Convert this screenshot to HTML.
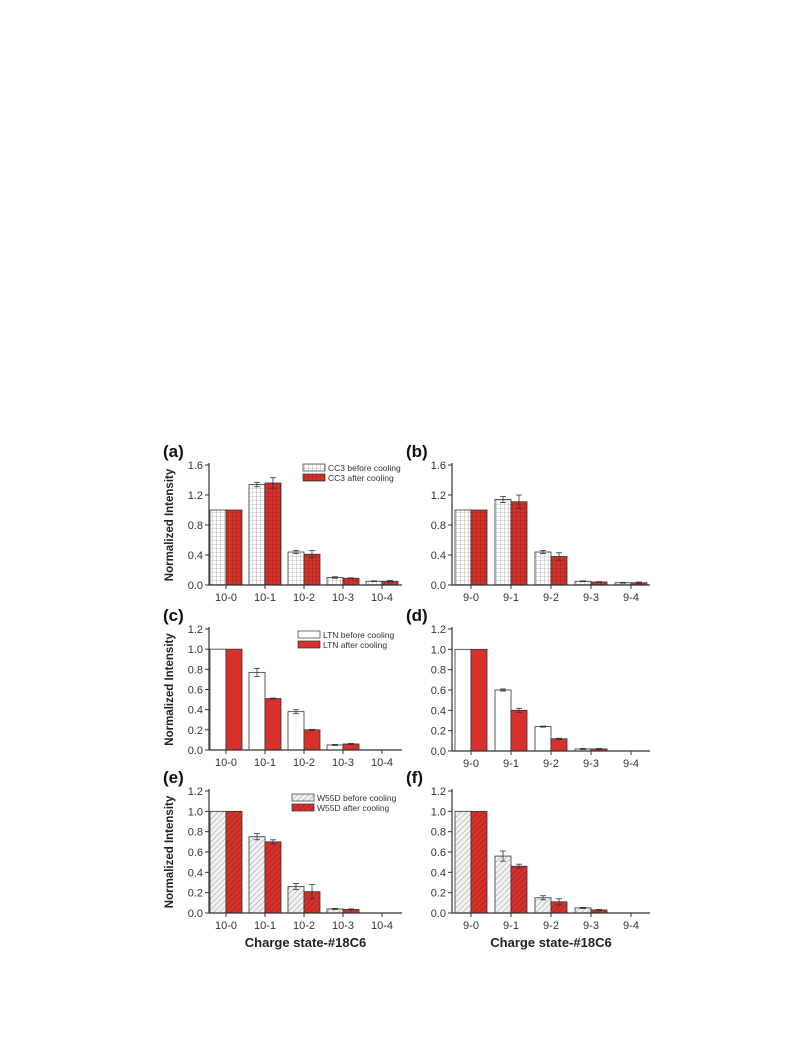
<!DOCTYPE html>
<html><head><meta charset="utf-8"><style>
html,body{margin:0;padding:0;background:#fff;}
svg{display:block;font-family:"Liberation Sans",Arial,sans-serif;}
</style></head><body>
<svg id="fig" width="793" height="1053" viewBox="0 0 793 1053" xmlns="http://www.w3.org/2000/svg">
<defs>
<pattern id="gridW" width="4" height="4" patternUnits="userSpaceOnUse"><rect width="4" height="4" fill="#fff"/><path d="M0 0H4M0 0V4" stroke="#888" stroke-width="0.6"/></pattern>
<pattern id="gridR" width="4" height="4" patternUnits="userSpaceOnUse"><rect width="4" height="4" fill="#d6322b"/><path d="M0 0H4M0 0V4" stroke="#7a1a16" stroke-width="0.6"/></pattern>
<pattern id="hatW" width="4" height="4" patternUnits="userSpaceOnUse" patternTransform="rotate(45)"><rect width="4" height="4" fill="#f2f2f2"/><path d="M0 0V4" stroke="#999" stroke-width="1"/></pattern>
<pattern id="hatR" width="4" height="4" patternUnits="userSpaceOnUse" patternTransform="rotate(45)"><rect width="4" height="4" fill="#d6322b"/><path d="M0 0V4" stroke="#8a1f1a" stroke-width="1"/></pattern>
</defs>
</svg>
<script>
const catsLeft = ["10-0","10-1","10-2","10-3","10-4"];
const catsRight = ["9-0","9-1","9-2","9-3","9-4"];
const aBefore = [1.0,1.34,0.44,0.10,0.05];
const aAfter  = [1.0,1.36,0.41,0.09,0.05];
const aBeforeErr = [0,0.03,0.02,0.01,0.005];
const aAfterErr  = [0,0.07,0.05,0.005,0.01];
const bBefore = [1.0,1.14,0.44,0.05,0.03];
const bAfter  = [1.0,1.11,0.38,0.04,0.03];
const bBeforeErr = [0,0.04,0.02,0.005,0.005];
const bAfterErr  = [0,0.09,0.05,0.005,0.01];
const cBefore = [1.0,0.77,0.38,0.05,0];
const cAfter  = [1.0,0.51,0.20,0.06,0];
const cBeforeErr = [0,0.04,0.02,0.005,0];
const cAfterErr  = [0,0.005,0.005,0.005,0];
const dBefore = [1.0,0.60,0.24,0.02,0];
const dAfter  = [1.0,0.40,0.12,0.02,0];
const dBeforeErr = [0,0.01,0.005,0.005,0];
const dAfterErr  = [0,0.02,0.005,0.005,0];
const eBefore = [1.0,0.75,0.26,0.04,0];
const eAfter  = [1.0,0.70,0.21,0.035,0];
const eBeforeErr = [0,0.03,0.03,0.005,0];
const eAfterErr  = [0,0.02,0.07,0.005,0];
const fBefore = [1.0,0.56,0.15,0.05,0];
const fAfter  = [1.0,0.46,0.11,0.03,0];
const fBeforeErr = [0,0.05,0.02,0.005,0];
const fAfterErr  = [0,0.02,0.03,0.005,0];
const ticksTop = ["0.0","0.4","0.8","1.2","1.6"];
const ticksLow = ["0.0","0.2","0.4","0.6","0.8","1.0","1.2"];

const NS="http://www.w3.org/2000/svg";
const svg=document.getElementById('fig');
function mk(tag,attrs,parent){const e=document.createElementNS(NS,tag);for(const k in attrs)e.setAttribute(k,attrs[k]);(parent||svg).appendChild(e);return e;}

function panel(p){
  const g=mk('g',{});
  
  
  const ymax=parseFloat(p.ticks[p.ticks.length-1]);
  const y=v=>p.y0-(v/ymax)*(p.y0-p.yTop);
  const x=i=>p.x0+p.first+i*p.step;
  const lab=mk('text',{x:p.x0-46,y:p.yTop-8,'font-size':17,'font-weight':'bold',fill:'#111'},g);
  lab.textContent='('+p.id+')';
  
  
  p.ticks.forEach(t=>{
    const yy=y(parseFloat(t));
    mk('line',{x1:p.x0-4,x2:p.x0,y1:yy,y2:yy,stroke:'#333','stroke-width':1},g);
    const tx=mk('text',{x:p.x0-6,y:yy+4,'font-size':11,'text-anchor':'end',fill:'#333'},g);
    tx.textContent=t;
    
    
  });
  p.before.forEach((v,i)=>{
    const cx=x(i);
    const r1=mk('rect',{x:cx-16,y:y(v),width:16,height:p.y0-y(v),fill:'url(#'+p.fillW+')',stroke:'#333','stroke-width':0.8},g);
    
    
    const va=p.after[i];
    const r2=mk('rect',{x:cx,y:y(va),width:16,height:p.y0-y(va),fill:'url(#'+p.fillR+')',stroke:'#333','stroke-width':0.8},g);
    
    
    [[cx-8,v,p.berr[i]],[cx+8,va,p.aerr[i]]].forEach(([ex,val,er])=>{
      if(er>0){
        mk('line',{x1:ex,x2:ex,y1:y(val+er),y2:y(val-er),stroke:'#333','stroke-width':0.8},g);
        mk('line',{x1:ex-3,x2:ex+3,y1:y(val+er),y2:y(val+er),stroke:'#333','stroke-width':0.8},g);
        mk('line',{x1:ex-3,x2:ex+3,y1:y(val-er),y2:y(val-er),stroke:'#333','stroke-width':0.8},g);
      }
    });
    mk('line',{x1:cx,x2:cx,y1:p.y0,y2:p.y0+4,stroke:'#333','stroke-width':1},g);
    const tl=mk('text',{x:cx,y:p.y0+16,'font-size':11,'text-anchor':'middle',fill:'#333'},g);
    tl.textContent=p.cats[i];
    
    
  });
  mk('line',{x1:p.x0,x2:p.x0,y1:p.yTop-2,y2:p.y0,stroke:'#333','stroke-width':1.2},g);
  mk('line',{x1:p.x0,x2:p.x1,y1:p.y0,y2:p.y0,stroke:'#333','stroke-width':1.2},g);
  if(p.ylabel){
    const yl=mk('text',{x:0,y:0,'font-size':11.5,'font-weight':'bold','text-anchor':'middle',fill:'#222',transform:'translate('+(p.x0-36)+','+((p.y0+p.yTop)/2)+') rotate(-90)'},g);
    yl.textContent='Normalized Intensity';
    
    
  }
  if(p.xlabel){
    const xl=mk('text',{x:(p.x0+p.x1)/2,y:p.y0+34,'font-size':13,'font-weight':'bold','text-anchor':'middle',fill:'#222'},g);
    xl.textContent='Charge state-#18C6';
    
    
  }
  if(p.legend){
    const L=p.legend;
    const lg=mk('g',{},g);
    
    
    [[p.fillW,L.t1,0],[p.fillR,L.t2,10]].forEach(([f,t,dy])=>{
      mk('rect',{x:L.x,y:L.y+dy,width:22,height:7,fill:'url(#'+f+')',stroke:'#333','stroke-width':0.7},lg);
      const tt=mk('text',{x:L.x+25,y:L.y+dy+7,'font-size':8.5,fill:'#333'},lg);
      tt.textContent=t;
      
      
    });
  }
}
const L={x0:209,x1:402,first:17,step:39};
const R={x0:452,x1:650,first:19,step:40};
panel({id:'a',...L,yTop:465,y0:585,ticks:ticksTop,cats:catsLeft,before:aBefore,after:aAfter,berr:aBeforeErr,aerr:aAfterErr,fillW:'gridW',fillR:'gridR',ylabel:true,legend:{x:303,y:464,t1:'CC3 before cooling',t2:'CC3 after cooling'}});
panel({id:'b',...R,yTop:465,y0:585,ticks:ticksTop,cats:catsRight,before:bBefore,after:bAfter,berr:bBeforeErr,aerr:bAfterErr,fillW:'gridW',fillR:'gridR'});
panel({id:'c',...L,yTop:629,y0:750,ticks:ticksLow,cats:catsLeft,before:cBefore,after:cAfter,berr:cBeforeErr,aerr:cAfterErr,fillW:'plainW',fillR:'plainR',ylabel:true,legend:{x:298,y:631,t1:'LTN before cooling',t2:'LTN after cooling'}});
panel({id:'d',...R,yTop:629,y0:751,ticks:ticksLow,cats:catsRight,before:dBefore,after:dAfter,berr:dBeforeErr,aerr:dAfterErr,fillW:'plainW',fillR:'plainR'});
panel({id:'e',...L,yTop:791,y0:913,ticks:ticksLow,cats:catsLeft,before:eBefore,after:eAfter,berr:eBeforeErr,aerr:eAfterErr,fillW:'hatW',fillR:'hatR',ylabel:true,xlabel:true,legend:{x:292,y:794,t1:'W55D before cooling',t2:'W55D after cooling'}});
panel({id:'f',...R,yTop:791,y0:913,ticks:ticksLow,cats:catsRight,before:fBefore,after:fAfter,berr:fBeforeErr,aerr:fAfterErr,fillW:'hatW',fillR:'hatR',xlabel:true});
</script>
<svg width="0" height="0" style="position:absolute"><defs>
<pattern id="plainW" width="4" height="4" patternUnits="userSpaceOnUse"><rect width="4" height="4" fill="#fff"/></pattern>
<pattern id="plainR" width="4" height="4" patternUnits="userSpaceOnUse"><rect width="4" height="4" fill="#d6322b"/></pattern>
</defs></svg>
</body></html>
